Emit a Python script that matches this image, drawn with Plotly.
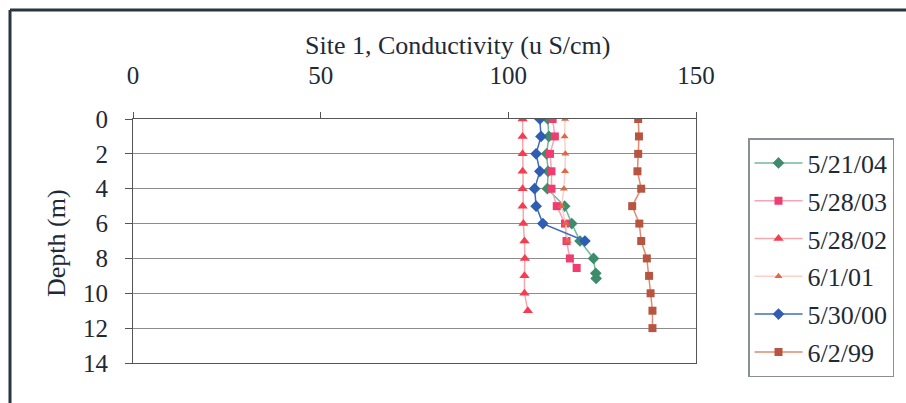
import plotly.graph_objects as go

# ---- data ----
series_names = ["5/21/04", "5/28/03", "5/28/02", "6/1/01", "5/30/00", "6/2/99"]

depth_0421 = [0, 1, 2, 3, 4, 5, 6, 7, 8, 8.85, 9.15]
cond_0421 = [110.5, 110.8, 110.2, 110.6, 110.4, 115.0, 116.9, 119.1, 122.7, 123.3, 123.4]

depth_0528_03 = [0, 1, 2, 3, 4, 5, 6, 7, 8, 8.55]
cond_0528_03 = [111.8, 112.4, 111.1, 111.5, 111.5, 112.9, 115.1, 115.5, 116.4, 118.2]

depth_0528_02 = [0, 1, 2, 3, 4, 5, 6, 7, 8, 9, 10, 11]
cond_0528_02 = [103.8, 103.8, 103.8, 103.8, 103.8, 103.8, 104.0, 104.3, 104.4, 104.3, 104.3, 105.2]

depth_0601 = [0, 1, 2, 3, 4, 5, 6, 7]
cond_0601 = [115.1, 115.0, 115.2, 115.1, 114.8, 114.2, 115.3, 115.8]

depth_0530 = [0, 1, 2, 3, 4, 5, 6, 7]
cond_0530 = [108.4, 108.7, 107.4, 108.4, 107.0, 107.4, 109.2, 120.4]

depth_0602 = [0, 1, 2, 3, 4, 5, 6, 7, 8, 9, 10, 11, 12]
cond_0602 = [134.6, 134.8, 134.6, 134.4, 135.4, 133.0, 134.9, 135.4, 136.9, 137.5, 137.9, 138.4, 138.4]

x_ticks = [0, 50, 100, 150]
y_ticks = [0, 2, 4, 6, 8, 10, 12, 14]

FONT = "Liberation Serif, Times New Roman, serif"
TXT = "#1e2a36"

styles = [
    dict(line=dict(color="#72b89a", width=1.5), marker=dict(symbol="diamond", size=9, color="#3f8c6c")),
    dict(line=dict(color="#f4a6b8", width=1.5), marker=dict(symbol="square", size=8, color="#f03c6e")),
    dict(line=dict(color="#f2a8ae", width=1.5), marker=dict(symbol="triangle-up", size=9, color="#f83c50")),
    dict(line=dict(color="#f8d2c8", width=1.5), marker=dict(symbol="triangle-up", size=7, color="#e06844")),
    dict(line=dict(color="#3e6cc0", width=1.5), marker=dict(symbol="diamond", size=9, color="#2f5db2")),
    dict(line=dict(color="#e08a72", width=1.5), marker=dict(symbol="square", size=8, color="#b85540")),
]

xs = [cond_0421, cond_0528_03, cond_0528_02, cond_0601, cond_0530, cond_0602]
ys = [depth_0421, depth_0528_03, depth_0528_02, depth_0601, depth_0530, depth_0602]

fig = go.Figure()
for name, x, y, st in zip(series_names, xs, ys, styles):
    fig.add_trace(go.Scatter(x=x, y=y, mode="lines+markers", name=name,
                             legendgroup=name, line=st["line"], marker=st["marker"]))

W, H = 906, 403
L, R, T, B = 133, 696, 119, 363
pw, ph = R - L, B - T

def px(xp):
    return (xp - L) / pw

def py(yp):
    return (B - yp) / ph

fig.update_layout(
    width=W, height=H,
    margin=dict(l=L, r=W - R, t=T, b=H - B),
    paper_bgcolor="white", plot_bgcolor="white",
    font=dict(family=FONT, color=TXT),
    showlegend=True,
    legend=dict(x=px(748), y=py(138), xanchor="left", yanchor="top",
                bordercolor="#8a8f94", borderwidth=1.5, bgcolor="white",
                font=dict(size=26, family=FONT, color=TXT),
                tracegroupgap=1, itemwidth=48),
    xaxis=dict(range=[0, 150], side="top", tickvals=x_ticks,
               tickfont=dict(size=25, family=FONT, color=TXT),
               ticks="outside", ticklen=6, tickcolor="#555",
               showline=True, linecolor="#555", mirror=True,
               showgrid=False, zeroline=False, ticklabelstandoff=18),
    yaxis=dict(range=[14, 0], tickvals=y_ticks,
               tickfont=dict(size=25, family=FONT, color=TXT),
               ticks="outside", ticklen=7, tickcolor="#555",
               showline=True, linecolor="#555", mirror=True,
               showgrid=True, gridcolor="#8c8c8c", gridwidth=1,
               zeroline=False, ticklabelstandoff=12),
    annotations=[
        dict(text="Site 1, Conductivity (u S/cm)", x=px(458), y=py(45),
             xref="paper", yref="paper", showarrow=False,
             xanchor="center", yanchor="middle",
             font=dict(size=26, family=FONT, color=TXT)),
        dict(text="Depth (m)", x=px(56), y=py(243), textangle=-90,
             xref="paper", yref="paper", showarrow=False,
             xanchor="center", yanchor="middle",
             font=dict(size=26, family=FONT, color=TXT)),
    ],
    shapes=[
        dict(type="line", xref="paper", yref="paper", x0=px(10), x1=px(10),
             y0=py(10), y1=py(410), line=dict(color="#2b3540", width=3)),
        dict(type="line", xref="paper", yref="paper", x0=px(10), x1=px(910),
             y0=py(10), y1=py(10), line=dict(color="#2b3540", width=3)),
    ],
)

fig.write_html("out.html", config={"displayModeBar": False},
               post_script="document.body.style.margin='0';document.body.style.padding='0';")
